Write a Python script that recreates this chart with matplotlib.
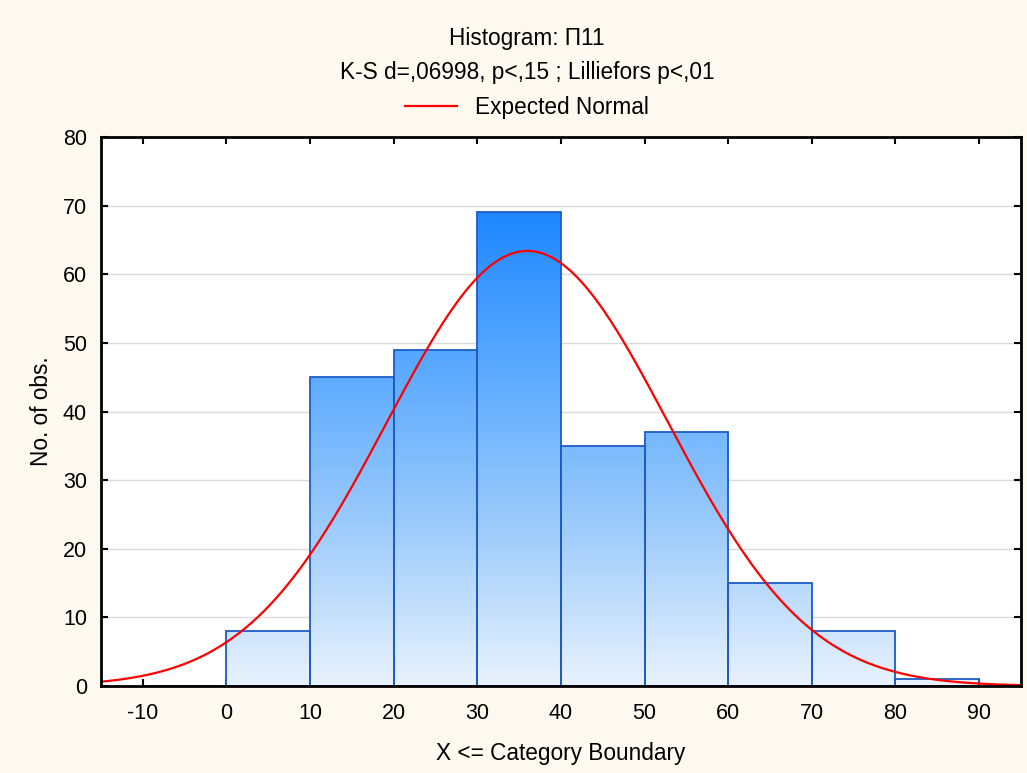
import numpy as np
import matplotlib
matplotlib.use("Agg")
import matplotlib.pyplot as plt
from matplotlib.colors import LinearSegmentedColormap

plt.rcParams['font.family'] = ['Liberation Sans', 'DejaVu Sans']
plt.rcParams['axes.unicode_minus'] = False

# Data
bin_edges = [-10, 0, 10, 20, 30, 40, 50, 60, 70, 80, 90]
counts = [0, 8, 45, 49, 69, 35, 37, 15, 8, 1]
mean_val = 36.0
sd_val = 16.8
x_ticks = [-10, 0, 10, 20, 30, 40, 50, 60, 70, 80, 90]
y_ticks = [0, 10, 20, 30, 40, 50, 60, 70, 80]

FS = 15.5
TS = 16.3

fig = plt.figure(figsize=(10.27, 7.73), dpi=100)
fig.patch.set_facecolor('#FDF9EF')
ax = fig.add_axes([0.0983, 0.1125, 0.8957, 0.7103])
ax.set_facecolor('white')
ax.set_xlim(-15, 95)
ax.set_ylim(0, 80)

for yv in y_ticks[1:-1]:
    ax.axhline(yv, color='#DADADA', lw=1, zorder=0)

cmap = LinearSegmentedColormap.from_list('g', ['#E8F2FD', '#9CCBFB', '#5AA9FF', '#1C86FF'])
gmax = 70.0
width = bin_edges[1] - bin_edges[0]
lefts = bin_edges[:-1]
bars = ax.bar(lefts, counts, width=width, align='edge', facecolor='none',
              edgecolor='#1E5AC8', linewidth=1.3, zorder=3)
for b, h in zip(bars, counts):
    if h <= 0:
        continue
    x0 = b.get_x()
    grad = np.linspace(h / gmax, 0, 256).reshape(-1, 1)
    im = ax.imshow(grad, extent=[x0, x0 + width, 0, h], aspect='auto',
                   cmap=cmap, vmin=0, vmax=1, zorder=2, interpolation='bilinear')
    im.set_clip_path(b)

N = sum(counts)
xs = np.linspace(-15, 95, 600)
ys = N * width / (sd_val * np.sqrt(2 * np.pi)) * np.exp(-0.5 * ((xs - mean_val) / sd_val) ** 2)
line, = ax.plot(xs, ys, color='#FF0000', lw=1.6, zorder=4, label='Expected Normal')

ax.set_xticks(x_ticks)
ax.set_yticks(y_ticks)
ax.tick_params(direction='in', length=5, width=1.5, labelsize=FS,
               top=True, right=True)
ax.tick_params(axis='x', pad=12)
ax.tick_params(axis='y', pad=10)
for s in ax.spines.values():
    s.set_linewidth(2)
    s.set_color('black')
    s.set_zorder(5)

ax.set_xlabel('X <= Category Boundary', fontsize=TS, labelpad=13)
ax.set_ylabel('No. of obs.', fontsize=TS, labelpad=7)

fig.text(0.513, 0.950, 'Histogram: П11', ha='center', va='center', fontsize=TS)
fig.text(0.513, 0.906, 'K-S d=,06998, p<,15 ; Lilliefors p<,01', ha='center', va='center', fontsize=TS)
fig.legend(handles=[line], loc='center', bbox_to_anchor=(0.513, 0.861), frameon=False,
           fontsize=TS, handlelength=2.3, handletextpad=0.8)

fig.savefig('out.png', dpi=100, facecolor=fig.get_facecolor())
